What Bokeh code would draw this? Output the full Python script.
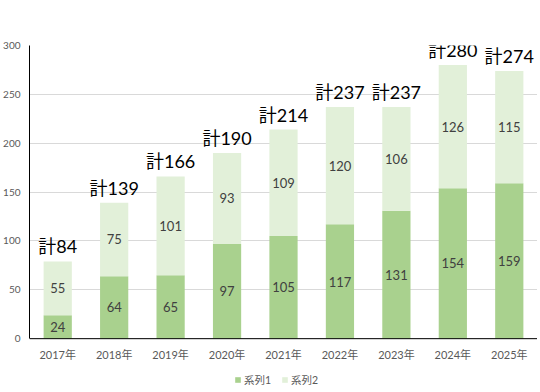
from bokeh.plotting import figure
from bokeh.models import ColumnDataSource, Legend, LegendItem, Range1d, FixedTicker, Span
from bokeh.core.properties import value
from bokeh.embed import file_html
from bokeh.resources import INLINE

years = ["2017年", "2018年", "2019年", "2020年", "2021年", "2022年", "2023年", "2024年", "2025年"]
series1 = [24, 64, 65, 97, 105, 117, 131, 154, 159]
series2 = [55, 75, 101, 93, 109, 120, 106, 126, 115]
totals = [84, 139, 166, 190, 214, 237, 237, 280, 274]
y_ticks = [0, 50, 100, 150, 200, 250, 300]

C1 = "#a9d18e"
C2 = "#e2f0d9"
FONT = "Lato, 'Noto Sans CJK JP', sans-serif"

src = ColumnDataSource(dict(
    year=years,
    s1=series1,
    s2=series2,
    zero=[0] * len(years),
    top=[a + b for a, b in zip(series1, series2)],
    mid1=[a / 2 for a in series1],
    mid2=[a + b / 2 for a, b in zip(series1, series2)],
    t1=[str(v) for v in series1],
    t2=[str(v) for v in series2],
    tt=["計" + str(v) for v in totals],
))

p = figure(x_range=years, y_range=Range1d(-52, 300), frame_width=508, frame_height=344,
           output_backend="svg", toolbar_location=None,
           min_border_left=19, min_border_right=0, min_border_top=45, min_border_bottom=0)

rs = p.vbar_stack(["s1", "s2"], x="year", width=0.5, color=[C1, C2], line_color=None, source=src)

p.text(x="year", y="mid1", text="t1", source=src, text_align="center", text_baseline="middle",
       text_font_size="13px", text_color="#404040", text_font=value(FONT))
p.text(x="year", y="mid2", text="t2", source=src, text_align="center", text_baseline="middle",
       text_font_size="13px", text_color="#404040", text_font=value(FONT))
p.text(x="year", y="top", text="tt", source=src, text_align="center", text_baseline="bottom",
       y_offset=-4, text_font_size="18px", text_color="#000000", text_font=value(FONT))
# category labels under the baseline
p.text(x="year", y="zero", text="year", source=src, text_align="center", text_baseline="middle",
       y_offset=16, text_font_size="11px", text_color="#595959", text_font=value(FONT))

p.add_layout(Span(location=0, dimension="width", line_color="#000000", line_width=1))

p.outline_line_color = None
p.xgrid.grid_line_color = None
p.ygrid.grid_line_color = "#d9d9d9"
p.xaxis.visible = False
p.yaxis.ticker = FixedTicker(ticks=y_ticks)
p.yaxis.bounds = (0, 300)
p.yaxis.major_tick_line_color = None
p.yaxis.minor_tick_line_color = None
p.yaxis.axis_line_color = "#000000"
p.yaxis.major_label_text_color = "#595959"
p.yaxis.major_label_text_font_size = "10px"
p.yaxis.major_label_text_font = FONT
p.yaxis.major_label_standoff = 3

legend = Legend(items=[LegendItem(label="系列1", renderers=[rs[0]]),
                       LegendItem(label="系列2", renderers=[rs[1]])],
                orientation="horizontal", location=(205, 2),
                glyph_width=7, glyph_height=7, label_height=12, spacing=10, label_standoff=3,
                label_text_font_size="10.5px", label_text_color="#595959",
                label_text_font=FONT, border_line_color=None, background_fill_alpha=0,
                margin=0, padding=0)
p.add_layout(legend, "center")

open("out.html", "w").write(file_html(p, INLINE))
